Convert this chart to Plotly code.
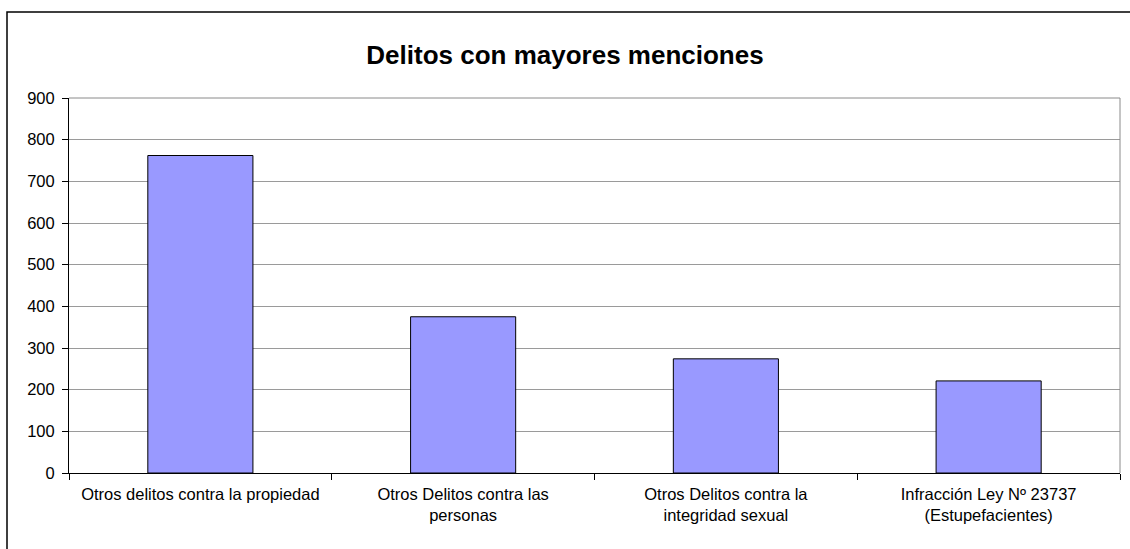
import plotly.graph_objects as go

categories = [
    "Otros delitos contra la propiedad",
    "Otros Delitos contra las<br>personas",
    "Otros Delitos contra la<br>integridad sexual",
    "Infracción Ley Nº 23737<br>(Estupefacientes)",
]
values = [762, 375, 274, 221]
y_ticks = [0, 100, 200, 300, 400, 500, 600, 700, 800, 900]

W, H = 1130, 549
L, R, T, B = 69, 10, 98, 76
pw, ph = W - L - R, H - T - B
FONT = "Liberation Sans, Arial, sans-serif"

fig = go.Figure(go.Bar(
    x=categories, y=values,
    marker=dict(color="#9999FF", line=dict(color="black", width=1)),
    width=0.4,
))

fig.update_layout(
    width=W, height=H,
    margin=dict(l=L, r=R, t=T, b=B),
    paper_bgcolor="white", plot_bgcolor="white",
    showlegend=False,
    font=dict(family=FONT, color="black", size=17),
    title=dict(text="<b>Delitos con mayores menciones</b>", x=0.5, xanchor="center",
               y=1 - 55 / H, yanchor="middle",
               font=dict(size=26, family=FONT, color="black")),
)
fig.update_xaxes(
    showline=True, linecolor="black", linewidth=1,
    ticks="outside", tickson="boundaries", ticklen=6, tickcolor="black",
    showgrid=False, tickfont=dict(size=16.5), ticklabelstandoff=6,
)
fig.update_yaxes(
    range=[0, 900], tickvals=y_ticks, showline=True, linecolor="black", linewidth=1,
    ticks="outside", ticklen=6, tickcolor="black",
    showgrid=True, gridcolor="#9a9a9a", gridwidth=1, zeroline=False,
    tickfont=dict(size=16.5), ticklabelstandoff=4,
)

# top and right border of plot area (gray)
fig.add_shape(type="line", xref="paper", yref="paper", x0=1, x1=1, y0=0, y1=1,
              line=dict(color="#8a8a8a", width=1))
fig.add_shape(type="line", xref="paper", yref="paper", x0=0, x1=1, y0=1, y1=1,
              line=dict(color="#8a8a8a", width=1))
# outer chart frame (extends beyond the window at right and bottom)
fig.add_shape(type="rect", xref="paper", yref="paper",
              x0=(7 - L) / pw, x1=(W + 5 - L) / pw,
              y0=-(H + 5 - T - ph) / ph, y1=(H - B - 12) / ph,
              line=dict(color="black", width=1.5), layer="below")

fig.write_html("out.html", config={"displayModeBar": False},
               post_script="document.body.style.margin='0';document.body.style.overflow='hidden';")
